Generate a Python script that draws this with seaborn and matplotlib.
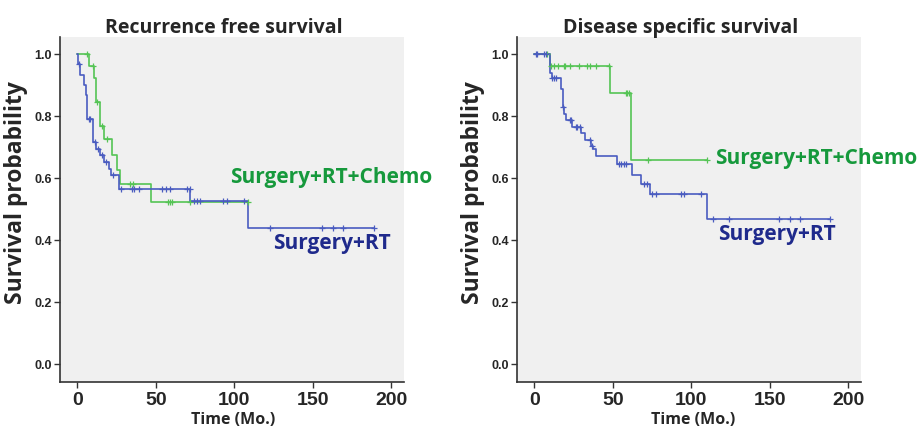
import numpy as np
import pandas as pd
import seaborn as sns
import matplotlib.pyplot as plt

sns.set_style('white')
plt.rcParams['font.family'] = ['Open Sans', 'DejaVu Sans']

# ---- data ----
# Recurrence free survival
rfs_rt_t = [0, 0.3, 1.9, 4.0, 5.5, 6.2, 9.8, 12.1, 14.2, 16.8, 20.0, 21.5, 26.3, 72.0, 109.0]
rfs_rt_s = [1.0, 0.967, 0.933, 0.9, 0.867, 0.79, 0.717, 0.695, 0.674, 0.652, 0.63, 0.609, 0.565, 0.527, 0.44]
rfs_rt_end = 189.0
rfs_rt_cens = [0.8, 7.5, 8.3, 11.0, 13.0, 15.5, 18.5, 22.5, 28.0, 35.0, 36.0, 39.0, 54.0, 56.5, 59.0,
               70.0, 71.5, 74.0, 76.0, 78.0, 93.0, 95.0, 106.0, 123.0, 156.0, 163.0, 169.0, 189.0]

rfs_ch_t = [0, 7.2, 10.8, 11.9, 14.6, 16.8, 22.0, 25.3, 27.0, 47.0]
rfs_ch_s = [1.0, 0.962, 0.923, 0.846, 0.769, 0.727, 0.675, 0.627, 0.58, 0.522]
rfs_ch_end = 109.0
rfs_ch_cens = [6.2, 10.0, 12.5, 15.5, 19.0, 33.8, 35.7, 58.0, 59.0, 60.0, 72.0, 109.0]

# Disease specific survival
dss_rt_t = [0, 10.2, 11.0, 17.2, 18.1, 19.2, 20.2, 24.1, 29.8, 32.2, 36.2, 37.5, 39.0,
            52.8, 62.4, 68.2, 73.5, 110.0]
dss_rt_s = [1.0, 0.94, 0.924, 0.887, 0.828, 0.806, 0.788, 0.766, 0.745, 0.723, 0.704, 0.695, 0.67,
            0.645, 0.61, 0.58, 0.548, 0.469]
dss_rt_end = 188.0
dss_rt_cens = [1.3, 2.0, 6.4, 7.7, 11.5, 12.5, 14.0, 18.5, 22.5, 23.5, 26.3, 27.3, 29.0, 35.4, 36.9,
               53.9, 55.4, 57.1, 58.6, 70.0, 71.5, 75.2, 77.3, 93.3, 95.0, 106.0,
               114.0, 124.0, 156.0, 163.0, 169.0, 188.0]

dss_ch_t = [0, 9.8, 48.1, 61.5]
dss_ch_s = [1.0, 0.962, 0.875, 0.657]
dss_ch_end = 110.0
dss_ch_cens = [8.0, 10.6, 12.8, 14.9, 18.7, 19.8, 22.6, 28.3, 33.7, 35.3, 39.0, 47.5,
               58.2, 59.2, 60.0, 72.4, 110.0]

titles = ['Recurrence free survival', 'Disease specific survival']
groups = ['Surgery+RT', 'Surgery+RT+Chemo']
xticks = [0, 50, 100, 150, 200]
yticks = [0.0, 0.2, 0.4, 0.6, 0.8, 1.0]

line_blue, line_green = '#4a5cc0', '#55c455'
text_blue, text_green = '#1f2a8c', '#16993c'


def step_df(t, s, end):
    return pd.DataFrame({'t': list(t) + [end], 's': list(s) + [s[-1]]})


def cens_df(t, s, cens):
    idx = np.searchsorted(t, cens, side='right') - 1
    return pd.DataFrame({'t': cens, 's': np.array(s)[idx]})


fig = plt.figure(figsize=(9.19, 4.28), dpi=100)
axes = [fig.add_axes([0.0653, 0.1075, 0.3743, 0.806]),
        fig.add_axes([0.5626, 0.1075, 0.3743, 0.806])]

panels = [
    [(rfs_ch_t, rfs_ch_s, rfs_ch_end, rfs_ch_cens, line_green),
     (rfs_rt_t, rfs_rt_s, rfs_rt_end, rfs_rt_cens, line_blue)],
    [(dss_ch_t, dss_ch_s, dss_ch_end, dss_ch_cens, line_green),
     (dss_rt_t, dss_rt_s, dss_rt_end, dss_rt_cens, line_blue)],
]
label_pos = [((97.5, 0.601), (124.8, 0.389)), ((115.0, 0.662), (117.0, 0.42))]

for k, ax in enumerate(axes):
    ax.set_facecolor('#f0f0f0')
    for t, s, end, cens, col in panels[k]:
        sns.lineplot(data=step_df(t, s, end), x='t', y='s', drawstyle='steps-post',
                     color=col, lw=1.2, ax=ax, estimator=None, sort=False)
        sns.scatterplot(data=cens_df(t, s, cens), x='t', y='s', marker='+', s=22,
                        color=col, linewidth=0.9, ax=ax, zorder=3)
    (gx, gy), (bx, by) = label_pos[k]
    ax.text(gx, gy, groups[1], color=text_green, fontsize=15, fontweight='bold',
            ha='left', va='center', clip_on=False)
    ax.text(bx, by, groups[0], color=text_blue, fontsize=15, fontweight='bold',
            ha='left', va='center', clip_on=False)

    ax.set_xlim(-11, 208)
    ax.set_ylim(-0.057, 1.055)
    ax.set_xticks(xticks)
    ax.set_xticklabels([str(v) for v in xticks], fontfamily='Liberation Sans',
                       fontweight='bold', fontsize=14)
    ax.set_yticks(yticks)
    ax.set_yticklabels(['%.1f' % v for v in yticks], fontfamily='Liberation Sans',
                       fontweight='bold', fontsize=9)
    ax.tick_params(axis='both', direction='out', length=4, width=1, color='#333333',
                   bottom=True, left=True, pad=2)
    ax.tick_params(axis='x', pad=3)
    for side in ['top', 'right']:
        ax.spines[side].set_visible(False)
    for side in ['left', 'bottom']:
        ax.spines[side].set_color('#333333')
        ax.spines[side].set_linewidth(1.2)

    ax.set_ylabel('Survival probability', fontsize=16.5, fontweight='bold')
    ax.yaxis.set_label_coords(-0.093, 0.55)
    ax.set_xlabel('Time (Mo.)', fontsize=11.5, fontweight='bold')
    ax.xaxis.set_label_coords(0.503 + 0.01 * k, -0.086)
    ax.set_title(titles[k], fontsize=14, fontweight='bold', x=0.477, pad=3)

fig.savefig('out.png', dpi=100, facecolor='white')
